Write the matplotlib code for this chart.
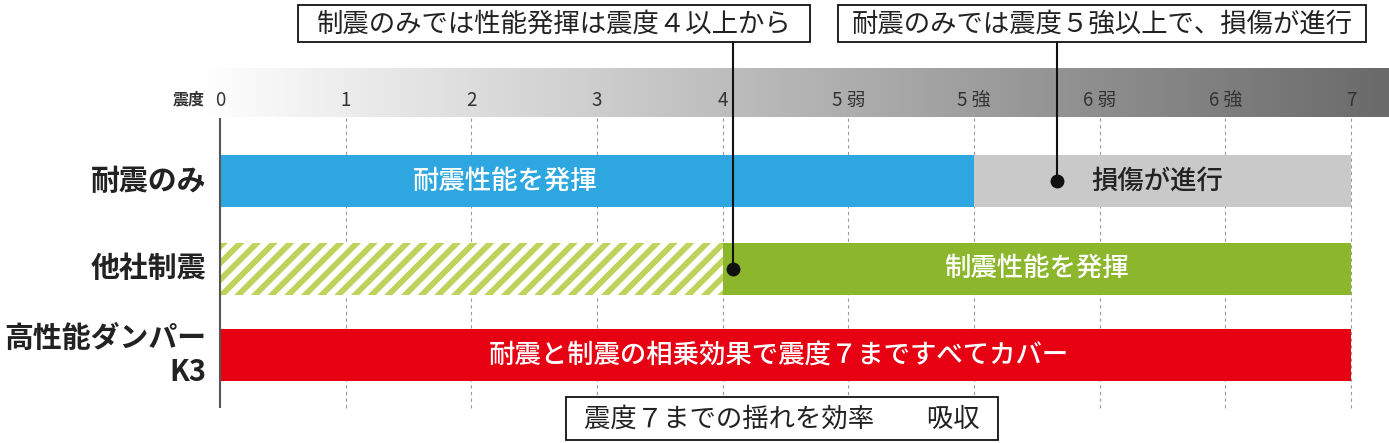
import numpy as np
import matplotlib.pyplot as plt
from matplotlib.colors import LinearSegmentedColormap
from matplotlib.patches import Rectangle

plt.rcParams['font.family'] = ['Noto Sans CJK JP', 'DejaVu Sans']
plt.rcParams['hatch.linewidth'] = 4.2

# scale: 震度 steps
tick_labels = ['0', '1', '2', '3', '4', '5 弱', '5 強', '6 弱', '6 強', '7']
tick_pos = np.arange(len(tick_labels))

# rows
rows = ['耐震のみ', '他社制震', '高性能ダンパー\nK3']
# segments per row: (start, end, colour, label, label x, text colour)
seg_tai = [(0, 6, '#2ea7e0', '耐震性能を発揮', 2.27, 'white'),
           (6, 9, '#c9c9c9', '損傷が進行', 7.46, '#222222')]
seg_other = [(4, 9, '#8cb72c', '制震性能を発揮', 6.5, 'white')]
hatch_other = (0, 4)
seg_k3 = [(0, 9, '#e60012', '耐震と制震の相乗効果で震度７まですべてカバー', 4.45, 'white')]

callout1 = '制震のみでは性能発揮は震度４以上から'
callout1_pt = 4.08
callout2 = '耐震のみでは震度５強以上で、損傷が進行'
callout2_pt = 6.66
footer = '震度７までの揺れを効率　　吸収'

# layout (pixel-ish)
unit = (1351 - 220) / 9
row_y = [181, 268.5, 355]
bar_h = 52

fig = plt.figure(figsize=(13.89, 4.43), dpi=100)
ax = fig.add_axes([0, 0, 1, 1])
ax.set_xlim(-220 / unit, (1389 - 220) / unit)
ax.set_ylim(443, 0)
ax.axis('off')

# gradient band
cmap = LinearSegmentedColormap.from_list('g', ['#ffffff', '#6a6a6a'])
grad = np.linspace(0, 1, 256).reshape(1, -1)
ax.imshow(grad, cmap=cmap, aspect='auto', extent=[-0.15, (1389 - 220) / unit, 117, 68], zorder=0)

# tick labels
for p, t in zip(tick_pos, tick_labels):
    ax.text(p, 100, t, ha='center', va='center', fontsize=13.5, color='#333333', zorder=3)
ax.text(-0.12, 100, '震度', ha='right', va='center', fontsize=11.5, fontweight='bold',
        color='#333333', zorder=3)

# grid and axis
ax.vlines(tick_pos[1:], 118, 408, colors='#9a9a9a', linestyles=(0, (3, 3)), lw=0.8, zorder=1)
ax.vlines([0], 118, 408, colors='#555555', lw=1.5, zorder=4)

# bars
def draw(segs, y):
    for s, e, c, lab, lx, tc in segs:
        ax.barh(y, e - s, left=s, height=bar_h, color=c, zorder=2)
        ax.text(lx, y, lab, ha='center', va='center', fontsize=19, color=tc,
                fontweight='medium', zorder=5)

draw(seg_tai, row_y[0])
ax.barh(row_y[1], hatch_other[1] - hatch_other[0], left=hatch_other[0], height=bar_h,
        color='white', edgecolor='#bdd35c', hatch='//', lw=0, zorder=2)
draw(seg_other, row_y[1])
draw(seg_k3, row_y[2])

# row labels
for y, r in zip(row_y, rows):
    ax.text(-0.11, y, r, ha='right', va='center', fontsize=20.8, fontweight='bold',
            color='#222222', linespacing=1.2, zorder=5)

# callouts
def box(x0, x1, y0, y1, txt):
    ax.add_patch(Rectangle((x0, y0), x1 - x0, y1 - y0, facecolor='white',
                           edgecolor='#111111', lw=1.3, zorder=6))
    ax.text((x0 + x1) / 2, (y0 + y1) / 2 + 1, txt, ha='center', va='center',
            fontsize=19, color='#222222', zorder=7)

box((298 - 220) / unit, (810 - 220) / unit, 5, 42, callout1)
box((838 - 220) / unit, (1366 - 220) / unit, 5, 42, callout2)
box((566 - 220) / unit, (998 - 220) / unit, 397, 440, footer)

ax.plot([callout1_pt, callout1_pt], [42, row_y[1]], color='#111111', lw=1.5, zorder=5)
ax.plot([callout1_pt], [row_y[1]], 'o', color='#111111', ms=9, zorder=6)
ax.plot([callout2_pt, callout2_pt], [42, row_y[0]], color='#111111', lw=1.5, zorder=5)
ax.plot([callout2_pt], [row_y[0]], 'o', color='#111111', ms=9, zorder=6)

fig.savefig('out.png', dpi=100)
